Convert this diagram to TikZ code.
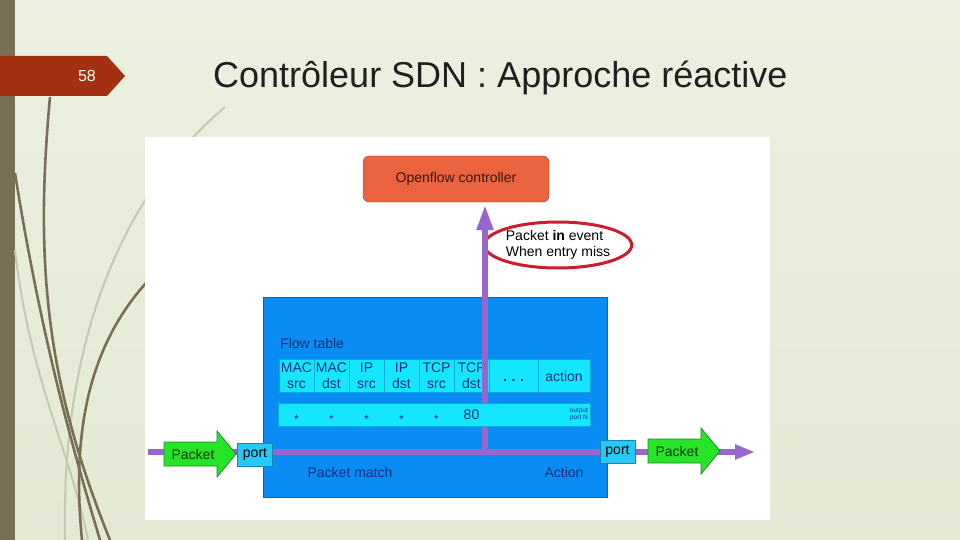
\documentclass[tikz,border=0pt]{standalone}
\usepackage{fontspec}
\setmainfont{Liberation Sans}
\usetikzlibrary{arrows.meta,positioning,shapes.geometric}

\definecolor{bgpale}{RGB}{227,233,211}
\definecolor{bglight}{RGB}{236,240,224}
\definecolor{barbrown}{RGB}{121,111,86}
\definecolor{curvelight}{RGB}{196,201,178}
\definecolor{bannerred}{RGB}{164,48,18}
\definecolor{titlegray}{RGB}{32,32,32}
\definecolor{ctrlorange}{RGB}{234,98,62}
\definecolor{ctrledge}{RGB}{150,72,52}
\definecolor{ctrltext}{RGB}{60,22,12}
\definecolor{flowpurple}{RGB}{152,102,204}
\definecolor{missred}{RGB}{200,30,45}
\definecolor{switchblue}{RGB}{10,140,245}
\definecolor{switchedge}{RGB}{25,90,170}
\definecolor{cellcyan}{RGB}{20,230,255}
\definecolor{celledge}{RGB}{10,170,220}
\definecolor{portcyan}{RGB}{40,200,245}
\definecolor{portedge}{RGB}{25,130,185}
\definecolor{pktgreen}{RGB}{40,228,40}
\definecolor{pktedge}{RGB}{30,140,40}
\definecolor{pkttext}{RGB}{20,60,20}
\definecolor{navytext}{RGB}{20,45,120}

\begin{document}
\begin{tikzpicture}[
  x=1pt, y=-1pt,
  every node/.style={font=\fontsize{14}{16}\selectfont},
  ctrl/.style={draw=ctrledge, fill=ctrlorange, rounded corners=6pt, minimum width=186pt, minimum height=46pt, text=ctrltext},
  miss/.style={ellipse, draw=missred, line width=3pt, align=left, minimum width=146pt, minimum height=46pt, inner sep=0pt},
  switchbox/.style={draw=switchedge, fill=switchblue, line width=1pt, minimum width=344pt, minimum height=200pt},
  cell/.style={draw=celledge, fill=cellcyan, line width=0.6pt, minimum height=33pt, inner sep=0pt, align=center, text=navytext},
  port/.style={draw=portedge, fill=portcyan, minimum width=35pt, minimum height=23pt, inner sep=0pt},
  pkt/.style={draw=pktedge, fill=pktgreen, line width=0.8pt},
  lbl/.style={text=navytext, inner sep=0pt},
  wild/.style={text=navytext, inner sep=0pt, font=\fontsize{12}{12}\selectfont},
  flow/.style={draw=flowpurple, line width=5.5pt},
  curvedark/.style={draw=barbrown, line width=2.6pt},
  curvepale/.style={draw=curvelight, line width=2pt},
]
\useasboundingbox (0,0) rectangle (960,540);
% slide background
\shade[top color=bglight, bottom color=bgpale] (0,0) rectangle (960,540);
\fill[barbrown] (0,0) rectangle (15,540);
\draw[curvepale] (225,107) .. controls (150,170) and (60,300) .. (65,540);
\draw[curvepale] (15,250) .. controls (30,380) and (70,450) .. (88,540);
\draw[curvedark] (50,97) .. controls (35,260) and (45,380) .. (110,540);
\draw[curvedark] (15,173) .. controls (40,330) and (70,440) .. (100,540);
\draw[curvedark] (146,283) .. controls (95,340) and (70,420) .. (82,540);
\fill[bannerred] (0,56) -- (107,56) -- (125,76) -- (107,96) -- (0,96) -- cycle;
\node[text=white, font=\fontsize{16}{16}\selectfont] (pgnum) at (87,76) {58};
\node[anchor=base west, text=titlegray, font=\fontsize{36}{40}\selectfont, inner sep=0pt] (title) at (213,88) {Contrôleur SDN : Approche réactive};
% figure
\fill[white] (145,137) rectangle (770,520);
\node[ctrl] (ctrl) at (456,179) {Openflow controller};
\node[miss] (missev) at (558,245) {Packet \textbf{in} event\\When entry miss};
\node[switchbox] (sw) at (435,397) {};
\node[lbl, anchor=west] (ftab) at (280,343) {Flow table};
\foreach \t/\b [count=\i] in {MAC/src,MAC/dst,IP/src,IP/dst,TCP/src,TCP/dst}
  \node[cell, minimum width=35pt] (h\i) at ({261.5+35*\i},376) {\t\\\b};
\node[cell, minimum width=49pt] (hdots) at (513.5,376) {};
\node[cell, minimum width=52pt] (hact) at (564,376) {action};
\node[lbl, font=\bfseries\fontsize{14}{14}\selectfont] at (513.5,380) {.\,\,.\,\,.};
% packet-in towards the controller
\coordinate (junc) at (485,451);
\draw[flow, -{Triangle[length=25pt,width=16pt]}, shorten >=3pt] (junc) -- (junc |- ctrl.south);
\node[cell, minimum width=312pt, minimum height=23pt] (datarow) at (434.5,414.5) {};
\foreach \i in {1,...,5}
  \node[wild] at (h\i |- 0,419) {*};
\node[lbl] (dport) at (h6 |- datarow) {80};
\node[lbl, anchor=east, align=right, font=\fontsize{6.5}{7}\selectfont] (outn) at (588,414.5) {output\\port N};
% data path
\coordinate (inL) at (148,452);
\coordinate (outR) at (755,452);
\draw[flow, -{Triangle[length=20pt,width=14pt]}] (inL) -- (outR);
\node[port] (portin) at (255,454.5) {port};
\node[port] (portout) at (617.5,451.5) {port};
\foreach \x/\y/\n in {164/454/pktin,648/451/pktout} {
  \filldraw[pkt] (\x,\y-12) -- ++(53,0) -- ++(0,-11) -- ++(19,23) -- ++(-19,23) -- ++(0,-11) -- ++(-53,0) -- cycle;
  \node[text=pkttext, inner sep=0pt] (\n) at (\x+29,\y) {Packet};
}
\node[lbl] (pmatch) at (350,472) {Packet match};
\node[lbl] (pact) at (564,472) {Action};
\end{tikzpicture}
\end{document}
